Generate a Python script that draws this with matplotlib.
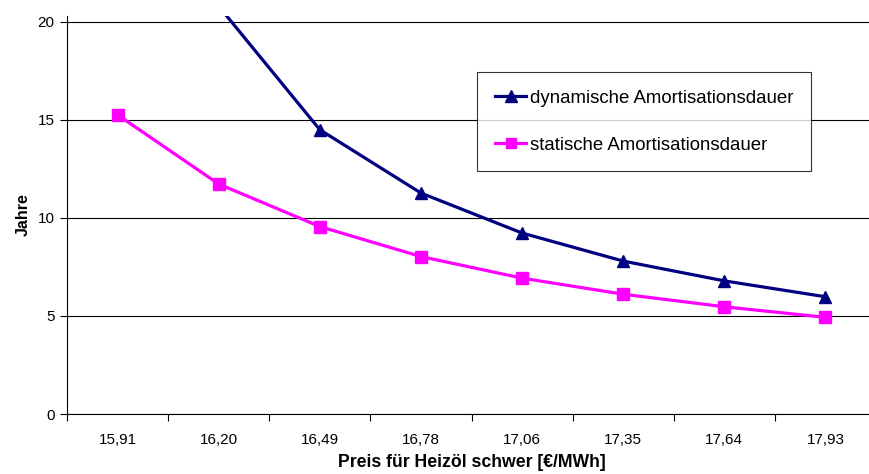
import numpy as np
import matplotlib
matplotlib.use("Agg")
import matplotlib.pyplot as plt

plt.rcParams["font.family"] = ["Liberation Sans", "DejaVu Sans"]

# Preis für Heizöl schwer [€/MWh]
preise = ["15,91", "16,20", "16,49", "16,78", "17,06", "17,35", "17,64", "17,93"]
# Amortisationsdauer in Jahren (erste Werte der dynamischen Kurve liegen über 20)
dynamisch = [34.0, 20.8, 14.5, 11.27, 9.23, 7.8, 6.79, 5.98]
statisch = [15.26, 11.73, 9.56, 8.03, 6.93, 6.11, 5.47, 4.93]

W, H = 869, 474
fig = plt.figure(figsize=(W / 100, H / 100), dpi=100)
ax = fig.add_axes([67 / W, 60 / H, (876 - 67) / W, (414 - 16) / H])

x = np.arange(len(preise))
ax.plot(x, dynamisch, color="#000080", lw=2.3, marker="^", ms=9,
        label="dynamische Amortisationsdauer")
ax.plot(x, statisch, color="#FF00FF", lw=2.3, marker="s", ms=8,
        label="statische Amortisationsdauer")

ax.set_xlim(-0.5, len(preise) - 0.5)
ax.set_ylim(0, 20.3)
ax.set_yticks([0, 5, 10, 15, 20])
ax.yaxis.grid(True, color="black", lw=0.8)
ax.set_axisbelow(True)

ax.set_xticks(x)
ax.set_xticklabels(preise, fontsize=11)
ax.set_xticks(np.arange(-0.5, len(preise)), minor=True)
ax.tick_params(axis="x", which="major", length=0, pad=14)
ax.tick_params(axis="x", which="minor", length=5, direction="out", width=0.8)
ax.tick_params(axis="y", labelsize=11, length=5, width=0.8, pad=4)

for s in ["top", "right"]:
    ax.spines[s].set_visible(False)
for s in ["left", "bottom"]:
    ax.spines[s].set_linewidth(0.8)
    ax.spines[s].set_color("black")

ax.set_xlabel("Preis für Heizöl schwer [€/MWh]", fontsize=12.7, fontweight="bold", labelpad=5)
ax.set_ylabel("Jahre", fontsize=11.5, fontweight="bold", labelpad=5)

leg = ax.legend(loc="upper left", bbox_to_anchor=(477 / W, 1 - 72 / H),
                bbox_transform=fig.transFigure, borderaxespad=0,
                fontsize=13.4, frameon=True, fancybox=False, edgecolor="black",
                handlelength=1.7, handletextpad=0.2, labelspacing=1.6,
                borderpad=0.95, markerscale=0.9)
leg.get_frame().set_linewidth(0.8)

fig.savefig("out.png", dpi=100)
